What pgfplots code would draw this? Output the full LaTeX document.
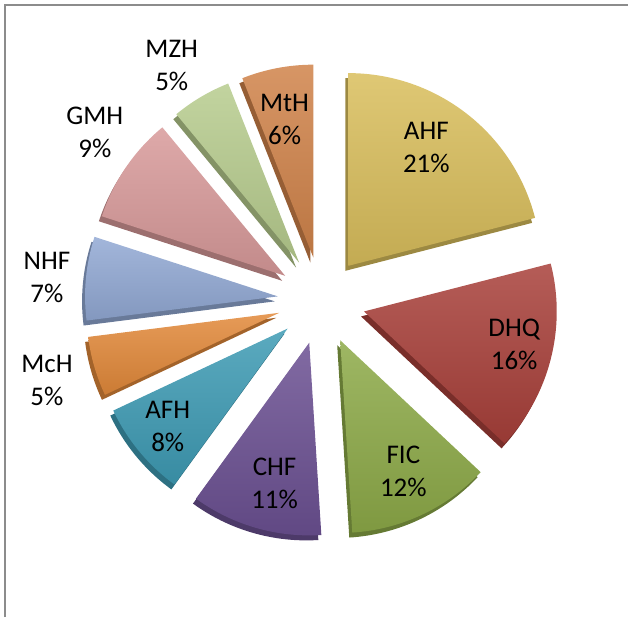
\documentclass[border=0pt]{standalone}
\usepackage{pgfplots}
\pgfplotsset{compat=1.18}
\usepackage{pgfplotstable}
\usepackage{fontspec}
\setmainfont{Carlito}

% slice colours
\definecolor{cAHF}{HTML}{D9BE5C}
\definecolor{cDHQ}{HTML}{A8403A}
\definecolor{cFIC}{HTML}{8DAA48}
\definecolor{cCHF}{HTML}{6B5092}
\definecolor{cAFH}{HTML}{3E9BB4}
\definecolor{cMcH}{HTML}{E2893A}
\definecolor{cNHF}{HTML}{92A9D4}
\definecolor{cGMH}{HTML}{D89A9A}
\definecolor{cMZH}{HTML}{B7CC8E}
\definecolor{cMtH}{HTML}{D0834A}
\definecolor{frame}{HTML}{8C8C8C}

% share of each category (percent), colour, label centre (x, y measured downwards)
\pgfplotstableread[col sep=comma]{
name,value,color,lx,ly
AHF,21,cAHF,427,148
DHQ,16,cDHQ,515,345
FIC,12,cFIC,404,472
CHF,11,cCHF,275,484
AFH,8,cAFH,168,427
McH,5,cMcH,47,381
NHF,7,cNHF,47,278
GMH,9,cGMH,95,133
MZH,5,cMZH,172,66
MtH,6,cMtH,285,120
}\piedata

\begin{document}
\begin{tikzpicture}
\begin{axis}[
  width=314.5pt, height=309pt, scale only axis,
  xmin=0, xmax=629, ymin=0, ymax=618, y dir=reverse,
  enlargelimits=false, hide axis, clip=false]
\addplot[draw=none] coordinates {(0,0) (629,618)};
\pgfplotsextra{%
  \def\cx{322}\def\cy{301}% pie centre
  \def\ex{44}% explosion distance
  \def\R{96.5pt}% pie radius (193 units)
  \xdef\curang{90}%
  \pgfplotstablegetrowsof{\piedata}%
  \pgfmathtruncatemacro\lastrow{\pgfplotsretval-1}%
  \foreach \i in {0,...,\lastrow}{%
    \pgfplotstablegetelem{\i}{value}\of\piedata \let\val\pgfplotsretval
    \pgfplotstablegetelem{\i}{name}\of\piedata \let\nm\pgfplotsretval
    \pgfplotstablegetelem{\i}{color}\of\piedata \let\col\pgfplotsretval
    \pgfplotstablegetelem{\i}{lx}\of\piedata \let\lx\pgfplotsretval
    \pgfplotstablegetelem{\i}{ly}\of\piedata \let\ly\pgfplotsretval
    \pgfmathsetmacro\endang{\curang-3.6*\val}%
    \pgfmathsetmacro\midang{(\curang+\endang)/2}%
    \pgfmathsetmacro\ox{\cx+\ex*cos(\midang)}%
    \pgfmathsetmacro\oy{\cy-\ex*sin(\midang)}%
    \pgfmathsetmacro\sx{\ox-3}%
    \pgfmathsetmacro\sy{\oy+5}%
    % side of the slab
    \fill[\col!72!black] (axis cs:\sx,\sy) -- ++(\curang:\R)
      arc[start angle=\curang, end angle=\endang, radius=\R] -- cycle;
    % top face
    \shade[top color=\col!85!white, bottom color=\col!90!black]
      (axis cs:\ox,\oy) -- ++(\curang:\R)
      arc[start angle=\curang, end angle=\endang, radius=\R] -- cycle;
    \node[align=center, font=\fontsize{13.5}{16.5}\selectfont, text=black]
      at (axis cs:\lx,\ly) {\nm\\\val\%};
    \xdef\curang{\endang}%
  }%
  \draw[frame, line width=1pt] (axis cs:5,618) -- (axis cs:5,5) -- (axis cs:629,5);
}
\end{axis}
\path (current axis.south west) rectangle (current axis.north east);
\end{tikzpicture}
\end{document}
